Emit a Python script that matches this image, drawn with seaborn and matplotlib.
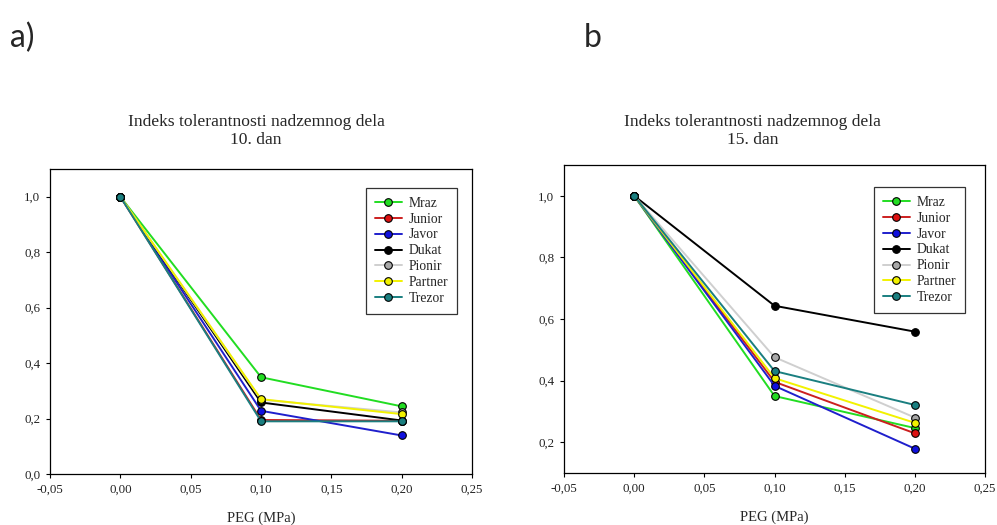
import numpy as np
import pandas as pd
import matplotlib
matplotlib.use("Agg")
import matplotlib.pyplot as plt
from matplotlib.ticker import FuncFormatter, MultipleLocator
import seaborn as sns

# PEG concentration levels (MPa)
peg = [0.0, 0.1, 0.2]

cultivars = ["Mraz", "Junior", "Javor", "Dukat", "Pionir", "Partner", "Trezor"]

# Shoot tolerance index, day 10
day10_mraz = [1.0, 0.349, 0.244]
day10_junior = [1.0, 0.195, 0.192]
day10_javor = [1.0, 0.228, 0.139]
day10_dukat = [1.0, 0.258, 0.193]
day10_pionir = [1.0, 0.268, 0.222]
day10_partner = [1.0, 0.270, 0.216]
day10_trezor = [1.0, 0.190, 0.190]

# Shoot tolerance index, day 15
day15_mraz = [1.0, 0.350, 0.246]
day15_junior = [1.0, 0.396, 0.229]
day15_javor = [1.0, 0.383, 0.179]
day15_dukat = [1.0, 0.643, 0.559]
day15_pionir = [1.0, 0.476, 0.280]
day15_partner = [1.0, 0.408, 0.263]
day15_trezor = [1.0, 0.431, 0.321]

line_colors = ["#22dd22", "#cc1f1f", "#1f1fcc", "#000000", "#cfcfcf", "#f2f200", "#1a7f80"]
face_colors = ["#22dd22", "#dd1111", "#1010dd", "#000000", "#a8a8a8", "#f2f200", "#1a7f80"]

day10 = [day10_mraz, day10_junior, day10_javor, day10_dukat,
         day10_pionir, day10_partner, day10_trezor]
day15 = [day15_mraz, day15_junior, day15_javor, day15_dukat,
         day15_pionir, day15_partner, day15_trezor]


def to_frame(series):
    rows = []
    for name, vals in zip(cultivars, series):
        for x, y in zip(peg, vals):
            rows.append({"PEG": x, "Indeks": y, "Sorta": name})
    return pd.DataFrame(rows)


sns.set_style("ticks")
plt.rcParams["font.family"] = ["Liberation Serif", "DejaVu Serif"]

fig = plt.figure(figsize=(9.97, 5.25), dpi=100)
ax1 = fig.add_axes([0.0502, 0.0971, 0.4233, 0.581])
ax2 = fig.add_axes([0.5657, 0.0990, 0.4223, 0.5867])

comma = FuncFormatter(lambda v, p: f"{v:.2f}".replace(".", ","))
comma1 = FuncFormatter(lambda v, p: f"{v:.1f}".replace(".", ","))


def draw(ax, series, ylim, legend_anchor):
    df = to_frame(series)
    for name, lc, fc in zip(cultivars, line_colors, face_colors):
        sub = df[df["Sorta"] == name]
        sns.lineplot(data=sub, x="PEG", y="Indeks", ax=ax, color=lc,
                     marker="o", markersize=5.5, markerfacecolor=fc,
                     markeredgecolor="black", markeredgewidth=0.8,
                     linewidth=1.4, label=name, sort=False)
    ax.set_xlim(-0.05, 0.25)
    ax.set_ylim(*ylim)
    ax.xaxis.set_major_locator(MultipleLocator(0.05))
    ax.yaxis.set_major_locator(MultipleLocator(0.2))
    ax.xaxis.set_major_formatter(comma)
    ax.yaxis.set_major_formatter(comma1)
    ax.tick_params(labelsize=9.3, length=3, width=0.8, color="black",
                   labelcolor="#222222", pad=4)
    for s in ax.spines.values():
        s.set_linewidth(0.9)
        s.set_color("black")
    ax.set_xlabel("PEG (MPa)", fontsize=10.5, labelpad=11)
    ax.set_ylabel("")
    leg = ax.legend(loc="upper right", bbox_to_anchor=legend_anchor,
                    borderaxespad=0, fontsize=9.8, frameon=True,
                    fancybox=False, edgecolor="black", handlelength=2.0,
                    labelspacing=0.21, borderpad=0.65, handletextpad=0.5)
    leg.get_frame().set_linewidth(0.9)


draw(ax1, day10, (0.0, 1.1), (0.9645, 0.938))
draw(ax2, day15, (0.1, 1.1), (0.9525, 0.9286))

fig.text(0.257, 0.750, "Indeks tolerantnosti nadzemnog dela\n10. dan",
         ha="center", va="center", fontsize=12.6, linespacing=1.2)
fig.text(0.755, 0.750, "Indeks tolerantnosti nadzemnog dela\n15. dan",
         ha="center", va="center", fontsize=12.6, linespacing=1.2)

fig.text(0.010, 0.928, "a)", fontsize=23, family=["Lato", "DejaVu Sans"],
         va="center", ha="left")
fig.text(0.586, 0.928, "b", fontsize=23, family=["Lato", "DejaVu Sans"],
         va="center", ha="left")

fig.savefig("out.png", dpi=100, facecolor="white")
